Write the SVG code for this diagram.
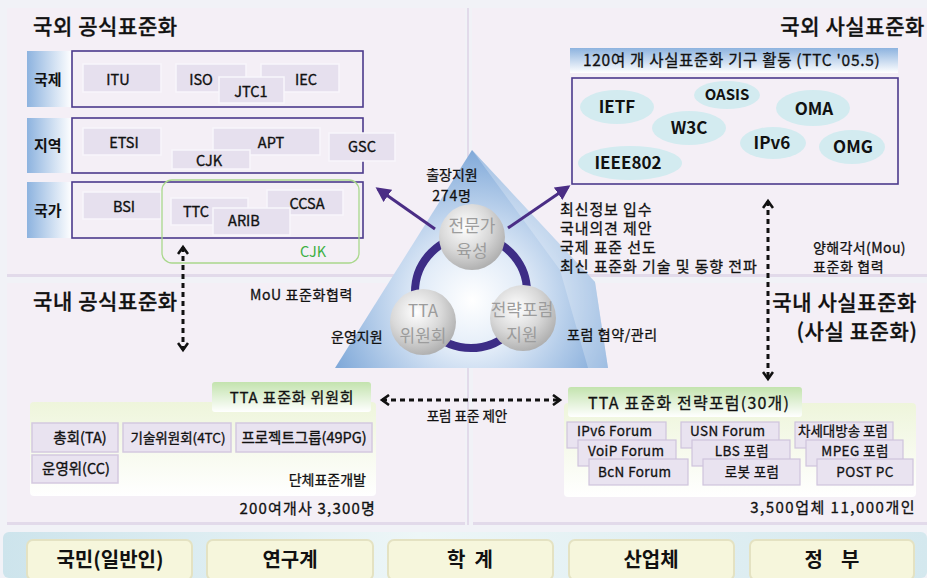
<svg xmlns="http://www.w3.org/2000/svg" width="927" height="578" viewBox="0 0 927 578">
<defs>
<style>
text{font-family:"Noto Sans CJK KR","Liberation Sans",sans-serif;fill:#111}
.title{font-size:21px;font-weight:500;letter-spacing:0.6px;stroke:#111;stroke-width:0.3}
.lab{font-size:15px;font-weight:700}
.org{font-size:14.5px;text-anchor:middle;stroke:#111;stroke-width:0.35}
.panel{fill:#f4eff6}
.pbox{fill:none;stroke:#4b3a8c;stroke-width:1.6}
.ibox{fill:#e6e0ee;stroke:#f8f6fb;stroke-width:1.5}
.ibox2{fill:#e9e3f0;stroke:#d4c9e0;stroke-width:1.5}
.ell{fill:#d3ebf0}
.etx{font-size:17px;font-weight:700;text-anchor:middle}
.small{font-size:14px;stroke:#111;stroke-width:0.3}
.sph{font-size:17px;fill:#9c9c9c;text-anchor:middle}
.dash{stroke:#111;stroke-width:3;stroke-dasharray:5,4;fill:none}
.parr{stroke:#4a2d85;stroke-width:3;fill:none}
.btn{fill:#f6f6dc;stroke:#e4e2c2;stroke-width:2}
.btx{font-size:20px;font-weight:700;text-anchor:middle}
.fbox{fill:#e9e3f0;stroke:#cfc4dd;stroke-width:1.2}
.ftx{font-size:13.5px;letter-spacing:0.4px;stroke:#111;stroke-width:0.3}
</style>
<linearGradient id="rowg" x1="0" y1="0" x2="1" y2="0">
<stop offset="0" stop-color="#8db3df"/><stop offset="1" stop-color="#ffffff"/>
</linearGradient>
<linearGradient id="hdrb" x1="0" y1="0" x2="0" y2="1">
<stop offset="0" stop-color="#8db3df"/><stop offset="1" stop-color="#ffffff"/>
</linearGradient>
<linearGradient id="hdrg" x1="0" y1="0" x2="0" y2="1">
<stop offset="0" stop-color="#c3e3ae"/><stop offset="1" stop-color="#ffffff"/>
</linearGradient>
<linearGradient id="boxg" x1="0" y1="0" x2="0" y2="1">
<stop offset="0" stop-color="#eef5db"/><stop offset="1" stop-color="#ffffff"/>
</linearGradient>
<linearGradient id="barg" x1="0" y1="0" x2="1" y2="0">
<stop offset="0" stop-color="#cde4ec"/><stop offset="0.45" stop-color="#edf6f7"/><stop offset="1" stop-color="#d4e8ee"/>
</linearGradient>
<radialGradient id="pyr" gradientUnits="userSpaceOnUse" cx="472" cy="300" r="150">
<stop offset="0" stop-color="#ffffff"/><stop offset="0.35" stop-color="#e2ecf8"/><stop offset="1" stop-color="#80a9d9"/>
</radialGradient>
<radialGradient id="sph" cx="0.4" cy="0.35" r="0.7">
<stop offset="0" stop-color="#ffffff"/><stop offset="0.55" stop-color="#d8d8d8"/><stop offset="1" stop-color="#ababab"/>
</radialGradient>
<marker id="chev" viewBox="0 0 12 12" refX="9" refY="6" markerWidth="12" markerHeight="12" markerUnits="userSpaceOnUse" orient="auto-start-reverse">
<path d="M2,1 L9,6 L2,11" fill="none" stroke="#111" stroke-width="2.6"/>
</marker>
<marker id="tri" viewBox="0 0 10 10" refX="8" refY="5" markerWidth="5" markerHeight="5" orient="auto">
<path d="M0,0 L10,5 L0,10 Z" fill="#4a2d85"/>
</marker>
</defs>

<rect width="927" height="578" fill="#f1f2f7"/>

<!-- panels -->
<g id="panel-tl"><rect class="panel" x="7" y="8" width="458" height="267"/><rect x="7" y="274" width="458" height="3" fill="#e2daea"/></g>
<g id="panel-tr"><rect class="panel" x="472" y="8" width="455" height="267"/><rect x="472" y="274" width="455" height="3" fill="#e2daea"/></g>
<g id="panel-bl"><rect class="panel" x="7" y="283" width="458" height="240"/><rect x="7" y="522" width="458" height="3" fill="#e2daea"/></g>
<g id="panel-br"><rect class="panel" x="473" y="283" width="454" height="240"/><rect x="473" y="522" width="454" height="3" fill="#e2daea"/></g>
<line x1="468" y1="8" x2="468" y2="525" stroke="#e2daea" stroke-width="2"/>

<!-- top-left: 국외 공식표준화 -->
<g id="intl-formal">
<text class="title" x="33" y="34">국외 공식표준화</text>
<rect x="27" y="51" width="45" height="56" fill="url(#rowg)"/>
<rect x="27" y="118" width="45" height="55" fill="url(#rowg)"/>
<rect x="27" y="182" width="45" height="56" fill="url(#rowg)"/>
<text class="lab" x="34" y="85">국제</text>
<text class="lab" x="34" y="151">지역</text>
<text class="lab" x="34" y="216">국가</text>
<rect class="pbox" x="72" y="51" width="291" height="56"/>
<rect class="pbox" x="72" y="118" width="291" height="55"/>
<rect class="pbox" x="72" y="182" width="291" height="56"/>
<g id="n-itu"><rect class="ibox" x="83" y="64" width="78" height="28"/><text class="org" x="118" y="85">ITU</text></g>
<g id="n-iso"><rect class="ibox" x="176" y="64" width="70" height="28"/><text class="org" x="201" y="85">ISO</text></g>
<g id="n-iec"><rect class="ibox" x="261" y="64" width="78" height="28"/><text class="org" x="306" y="85">IEC</text></g>
<g id="n-jtc1"><rect class="ibox" x="219" y="77" width="65" height="26"/><text class="org" x="251" y="97">JTC1</text></g>
<g id="n-etsi"><rect class="ibox" x="83" y="128" width="78" height="27"/><text class="org" x="124" y="148">ETSI</text></g>
<g id="n-apt"><rect class="ibox" x="213" y="128" width="107" height="27"/><text class="org" x="271" y="148">APT</text></g>
<g id="n-cjk1"><rect class="ibox" x="172" y="150" width="78" height="19"/><text class="org" x="209" y="166">CJK</text></g>
<g id="n-gsc"><rect class="ibox" x="329" y="133" width="66" height="28"/><text class="org" x="362" y="152">GSC</text></g>
<g id="n-bsi"><rect class="ibox" x="83" y="192" width="78" height="27"/><text class="org" x="124" y="212">BSI</text></g>
<g id="n-ttc"><rect class="ibox" x="171" y="198" width="77" height="27"/><text class="org" x="196" y="217">TTC</text></g>
<g id="n-ccsa"><rect class="ibox" x="267" y="190" width="76" height="25"/><text class="org" x="307" y="209">CCSA</text></g>
<g id="n-arib"><rect class="ibox" x="213" y="208" width="77" height="27"/><text class="org" x="244" y="226">ARIB</text></g>
<g id="n-cjk2"><rect x="162" y="180" width="197" height="83" rx="10" fill="none" stroke="#a9d88c" stroke-width="1.3"/><text x="313" y="257" style="font-size:14.5px;fill:#3cb043;text-anchor:middle">CJK</text></g>
</g>

<!-- top-right: 국외 사실표준화 -->
<g id="intl-defacto">
<text class="title" x="925" y="34" text-anchor="end">국외 사실표준화</text>
<rect x="570" y="48" width="328" height="25" fill="url(#hdrb)"/>
<text x="583" y="66" style="font-size:15.5px;letter-spacing:0.7px;stroke:#111;stroke-width:0.3">120여 개 사실표준화 기구 활동 (TTC '05.5)</text>
<rect class="pbox" x="572" y="78" width="326" height="106"/>
<g id="n-ietf"><ellipse class="ell" cx="617" cy="107" rx="37" ry="17"/><text class="etx" x="617" y="113">IETF</text></g>
<g id="n-oasis"><ellipse class="ell" cx="727" cy="95" rx="33" ry="14"/><text class="etx" x="727" y="100" style="font-size:15px">OASIS</text></g>
<g id="n-oma"><ellipse class="ell" cx="813" cy="108" rx="37" ry="18"/><text class="etx" x="814" y="115">OMA</text></g>
<g id="n-w3c"><ellipse class="ell" cx="689" cy="128" rx="37" ry="17"/><text class="etx" x="689" y="134">W3C</text></g>
<g id="n-ipv6"><ellipse class="ell" cx="773" cy="143" rx="33" ry="16"/><text class="etx" x="772" y="149">IPv6</text></g>
<g id="n-omg"><ellipse class="ell" cx="852" cy="147" rx="33" ry="17"/><text class="etx" x="853" y="153">OMG</text></g>
<g id="n-ieee802"><ellipse class="ell" cx="630" cy="163" rx="52" ry="17"/><text class="etx" x="628" y="169">IEEE802</text></g>
<text class="small" x="813" y="253" style="letter-spacing:0.4px">양해각서(Mou)</text>
<text class="small" x="813" y="272" style="letter-spacing:0.6px">표준화 협력</text>
</g>

<!-- bottom-left: 국내 공식표준화 -->
<g id="dom-formal">
<text class="title" x="33" y="309">국내 공식표준화</text>
<text class="small" x="250" y="300" style="letter-spacing:0.6px">MoU 표준화협력</text>
<rect x="30" y="402" width="346" height="94" rx="4" fill="url(#boxg)"/>
<rect x="212" y="382" width="159" height="30" rx="3" fill="url(#hdrg)"/>
<text x="292" y="403" style="font-size:15px;letter-spacing:0.8px;text-anchor:middle;stroke:#111;stroke-width:0.3">TTA 표준화 위원회</text>
<g id="n-ta"><rect class="ibox2" x="32" y="423" width="86" height="29"/><text class="org" x="80" y="443">총회(TA)</text></g>
<g id="n-4tc"><rect class="ibox2" x="123" y="423" width="108" height="29"/><text class="org" x="178" y="443" style="font-size:13.5px">기술위원회(4TC)</text></g>
<g id="n-49pg"><rect class="ibox2" x="236" y="423" width="136" height="29"/><text class="org" x="304" y="443">프로젝트그룹(49PG)</text></g>
<g id="n-cc"><rect class="ibox2" x="32" y="455" width="86" height="28"/><text class="org" x="76" y="474">운영위(CC)</text></g>
<text class="small" x="366" y="485" text-anchor="end">단체표준개발</text>
<text x="376" y="514" text-anchor="end" style="font-size:15px;letter-spacing:1.2px;stroke:#111;stroke-width:0.3">200여개사 3,300명</text>
</g>

<!-- bottom-right: 국내 사실표준화 -->
<g id="dom-defacto">
<text class="title" x="917" y="310" text-anchor="end">국내 사실표준화</text>
<text class="title" x="857" y="339" text-anchor="middle">(사실 표준화)</text>
<rect x="564" y="403" width="352" height="94" rx="4" fill="url(#boxg)"/>
<rect x="568" y="387" width="234" height="30" rx="3" fill="url(#hdrg)"/>
<text x="588" y="409" style="font-size:16px;letter-spacing:1.2px;stroke:#111;stroke-width:0.3">TTA 표준화 전략포럼(30개)</text>
<g id="n-f-ipv6"><rect class="fbox" x="567" y="422" width="99" height="26"/><text class="ftx" x="577" y="436">IPv6 Forum</text></g>
<g id="n-f-voip"><rect class="fbox" x="578" y="440" width="98" height="26"/><text class="ftx" x="588" y="456">VoiP Forum</text></g>
<g id="n-f-bcn"><rect class="fbox" x="589" y="459" width="99" height="26"/><text class="ftx" x="598" y="477">BcN Forum</text></g>
<g id="n-f-usn"><rect class="fbox" x="681" y="422" width="98" height="26"/><text class="ftx" x="690" y="436">USN Forum</text></g>
<g id="n-f-lbs"><rect class="fbox" x="692" y="440" width="98" height="26"/><text class="ftx" x="742" y="456" text-anchor="middle">LBS 포럼</text></g>
<g id="n-f-robot"><rect class="fbox" x="703" y="459" width="97" height="26"/><text class="ftx" x="752" y="477" text-anchor="middle">로봇 포럼</text></g>
<g id="n-f-nextbc"><rect class="fbox" x="795" y="422" width="98" height="26"/><text class="ftx" x="798" y="436" style="letter-spacing:0">차세대방송 포럼</text></g>
<g id="n-f-mpeg"><rect class="fbox" x="806" y="440" width="97" height="26"/><text class="ftx" x="855" y="456" text-anchor="middle">MPEG 포럼</text></g>
<g id="n-f-postpc"><rect class="fbox" x="817" y="459" width="96" height="26"/><text class="ftx" x="865" y="477" text-anchor="middle">POST PC</text></g>
<text x="916" y="513" text-anchor="end" style="font-size:15px;letter-spacing:1.5px;stroke:#111;stroke-width:0.3">3,500업체 11,000개인</text>
</g>

<!-- pyramid -->
<g id="pyramid">
<polygon points="472,150 595,282 608,368 335,368" fill="url(#pyr)"/>
<polygon points="472,150 595,282 608,368 588,368 560,270" fill="#ffffff" opacity="0.25"/>
<circle cx="471" cy="292" r="56" fill="none" stroke="#3d2d86" stroke-width="8"/>
<text class="small" x="452" y="180" text-anchor="middle">출장지원</text>
<text class="small" x="452" y="201" text-anchor="middle" style="letter-spacing:0.8px">274명</text>
<text class="small" x="331" y="342">운영지원</text>
</g>
<g id="n-expert"><circle cx="472" cy="237" r="33" fill="url(#sph)"/><text class="sph" x="472" y="232">전문가</text><text class="sph" x="472" y="257">육성</text></g>
<g id="n-tta-comm"><circle cx="423" cy="322" r="33" fill="url(#sph)"/><text class="sph" x="423" y="317">TTA</text><text class="sph" x="423" y="342">위원회</text></g>
<g id="n-forum-sup"><circle cx="523" cy="318" r="33" fill="url(#sph)"/><text class="sph" x="522" y="316">전략포럼</text><text class="sph" x="522" y="341">지원</text></g>

<!-- texts over the pyramid -->
<g id="notes">
<text class="small" x="560" y="215" style="font-size:15px;letter-spacing:0.9px">최신정보 입수</text>
<text class="small" x="560" y="234" style="font-size:15px;letter-spacing:0.9px">국내의견 제안</text>
<text class="small" x="560" y="253" style="font-size:15px;letter-spacing:0.9px">국제 표준 선도</text>
<text class="small" x="560" y="272" style="font-size:15px;letter-spacing:0.9px">최신 표준화 기술 및 동향 전파</text>
<text class="small" x="567" y="340" style="letter-spacing:0.6px">포럼 협약/관리</text>
</g>

<!-- connectors -->
<g id="connectors">
<line class="parr" x1="435" y1="229" x2="378" y2="189" marker-end="url(#tri)"/>
<line class="parr" x1="508" y1="228" x2="568" y2="187" marker-end="url(#tri)"/>
<line class="dash" x1="183" y1="247" x2="183" y2="350" marker-start="url(#chev)" marker-end="url(#chev)"/>
<line class="dash" x1="768" y1="201" x2="768" y2="379" marker-start="url(#chev)" marker-end="url(#chev)"/>
<line class="dash" x1="382" y1="400" x2="560" y2="400" marker-start="url(#chev)" marker-end="url(#chev)"/>
<text class="small" x="467" y="421" text-anchor="middle" style="font-size:13.5px">포럼 표준 제안</text>
</g>

<!-- bottom bar -->
<g id="stakeholders">
<rect x="3" y="532" width="924" height="46" rx="6" fill="url(#barg)"/>
<g id="n-public"><rect class="btn" x="27" y="540" width="165" height="40" rx="6"/><text class="btx" x="110" y="567">국민(일반인)</text></g>
<g id="n-research"><rect class="btn" x="207" y="540" width="166" height="40" rx="6"/><text class="btx" x="290" y="567">연구계</text></g>
<g id="n-academia"><rect class="btn" x="388" y="540" width="165" height="40" rx="6"/><text class="btx" x="470" y="567" xml:space="preserve">학  계</text></g>
<g id="n-industry"><rect class="btn" x="569" y="540" width="165" height="40" rx="6"/><text class="btx" x="651" y="567">산업체</text></g>
<g id="n-gov"><rect class="btn" x="750" y="540" width="164" height="40" rx="6"/><text class="btx" x="832" y="567" xml:space="preserve">정    부</text></g>
</g>
</svg>
